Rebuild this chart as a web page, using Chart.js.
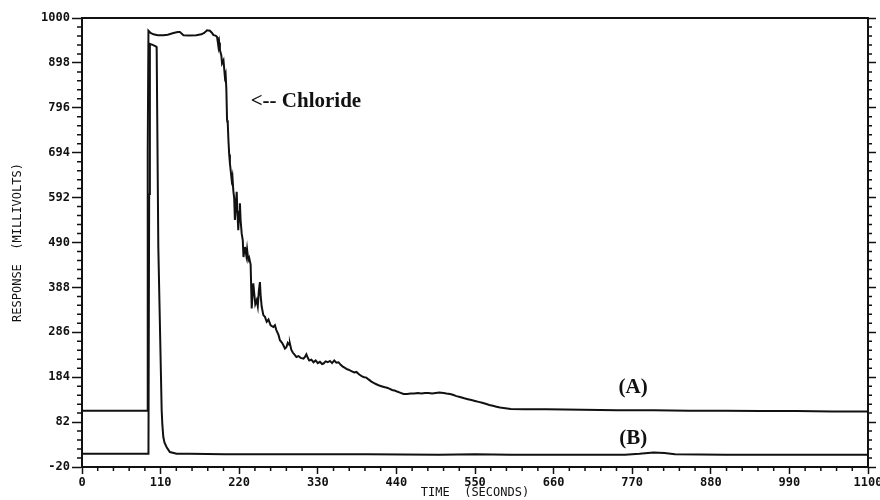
<!DOCTYPE html>
<html>
<head>
<meta charset="utf-8">
<title>Chloride response</title>
<script src="https://cdn.jsdelivr.net/npm/chart.js@4.4.1/dist/chart.umd.min.js"></script>
<style>
  body { margin: 0; background: #fff; }
  #wrap { width: 880px; height: 500px; }
</style>
</head>
<body>
<div id="wrap"><canvas id="chart" width="880" height="500"></canvas></div>
<script>
// curve (A): time in seconds, response in mV
const timeA = [
  0, 40, 91, 92, 93, 96, 100, 106, 114, 120,
  128, 134, 137, 142, 150, 160, 167, 171, 175, 179,
  182, 184, 187, 189, 190, 191, 192, 193, 195, 196,
  198, 200, 201, 202, 203, 204, 205, 206, 207, 208,
  209.5, 210.5, 211.7, 213, 214, 215.5, 216.5, 217.5, 218.7, 220,
  221, 222, 223.5, 225, 226, 227, 228, 230, 231, 232.7,
  234, 236, 237.5, 238.5, 239.7, 241, 242.5, 244.5, 246, 247.5,
  249, 250, 251.5, 253.8, 256, 258.5, 261, 264, 267.8, 270,
  272, 275, 277, 280, 282, 284, 286, 288, 290, 291,
  293, 295, 298, 300, 303, 306, 310, 312, 314, 316,
  318, 321, 324, 327, 330, 333, 336, 338, 341, 344,
  347, 350, 353, 356, 359, 362, 365, 368, 370, 373,
  377, 381, 384, 388, 392, 395, 398, 401, 405, 408,
  412, 416, 420, 424, 427, 430, 434, 437, 440, 445,
  450, 455, 460, 465, 470, 475, 480, 485, 490, 495,
  500, 506, 510, 515, 519, 524, 529, 535, 540, 545,
  550, 555, 560, 566, 570, 575, 580, 585, 590, 595,
  600, 620, 650, 700, 750, 800, 850, 900, 950, 1000,
  1050, 1100
];
const respA = [
  108, 108, 108, 700, 971, 966, 963, 961, 961, 962,
  966, 968, 968, 961, 960, 961, 963, 966, 972, 971,
  966, 961, 960, 957, 946, 934, 944, 927, 915, 897,
  904, 866, 872, 840, 768, 760, 720, 690, 670, 655,
  632, 640, 609, 590, 541, 580, 605, 560, 518, 560,
  579, 540, 510, 495, 457, 470, 480, 460, 475, 450,
  455, 440, 340, 370, 397, 375, 350, 359, 345, 380,
  400, 370, 344, 325, 321, 310, 315, 302, 298, 302,
  291, 280, 268, 262, 256, 249, 252, 262, 258, 260,
  246, 240, 234, 230, 232, 228, 226, 230, 236, 228,
  222, 224, 218, 222, 216, 219, 214, 215, 220, 218,
  221, 216, 222, 217, 218, 212, 208, 205, 203, 201,
  198, 195, 196, 190, 186, 184, 183, 179, 174, 171,
  168, 165, 163, 161, 160, 158, 155, 154, 152, 149,
  146, 146, 147, 147, 148, 147, 148, 148, 147, 148,
  149, 148, 147, 146, 144, 141, 139, 136, 134, 132,
  130, 128, 126, 123, 121, 119, 117, 115, 114, 113,
  112, 111, 111, 110, 109, 109, 108, 108, 107, 107,
  106, 106
];

// curve (B)
const timeB = [
  0, 50, 93, 94, 95, 99, 104, 104.5, 106.8, 111.5,
  112.5, 113.8, 115.5, 118.5, 123, 132.5, 150, 200, 300, 400,
  500, 550, 600, 700, 760, 780, 800, 815, 830, 900,
  1000, 1100
];
const respB = [
  10, 10, 10, 600, 941, 939, 935, 930, 480, 109,
  75, 48, 35, 25, 14, 10, 10, 9, 9, 9,
  8, 9, 8, 8, 8, 10, 13, 12, 9, 8,
  8, 8
];

const xTicks = [0, 110, 220, 330, 440, 550, 660, 770, 880, 990, 1100];
const yTicks = [-20, 82, 184, 286, 388, 490, 592, 694, 796, 898, 1000];

// text labels placed in data units
const notes = [
  { text: '<-- Chloride', t: 236, v: 811 },
  { text: '(A)', t: 751, v: 160 },
  { text: '(B)', t: 752, v: 44 }
];

const ink = '#111';
const tickFont  = { family: '"DejaVu Sans Mono"', size: 12, weight: 'bold' };
const titleFont = { family: '"DejaVu Sans Mono"', size: 12 };

const toPoints = (xs, ys) => xs.map((x, i) => ({ x, y: ys[i] }));
const plain = v => String(v);

// minor tick marks + annotations
const extras = {
  id: 'extras',
  afterDraw(chart) {
    const { ctx, chartArea: a } = chart;
    const x = chart.scales.x, y = chart.scales.y;
    ctx.save();
    ctx.strokeStyle = ink;
    ctx.lineWidth = 1.5;
    ctx.beginPath();
    for (let i = 0; i < xTicks.length - 1; i++) {
      const step = (xTicks[i + 1] - xTicks[i]) / 5;
      for (let k = 1; k < 5; k++) {
        const px = x.getPixelForValue(xTicks[i] + k * step);
        ctx.moveTo(px, a.bottom); ctx.lineTo(px, a.bottom + 4);
      }
    }
    for (let i = 0; i < yTicks.length - 1; i++) {
      const step = (yTicks[i + 1] - yTicks[i]) / 5;
      for (let k = 1; k < 5; k++) {
        const py = y.getPixelForValue(yTicks[i] + k * step);
        ctx.moveTo(a.left - 5, py); ctx.lineTo(a.left, py);
        ctx.moveTo(a.right, py); ctx.lineTo(a.right + 4, py);
      }
    }
    ctx.stroke();

    ctx.fillStyle = ink;
    ctx.font = 'bold 21px "Liberation Serif"';
    ctx.textBaseline = 'middle';
    ctx.textAlign = 'left';
    notes.forEach(n => ctx.fillText(n.text, x.getPixelForValue(n.t), y.getPixelForValue(n.v)));
    ctx.restore();
  }
};

const lineStyle = { borderColor: ink, borderWidth: 2, pointRadius: 0, tension: 0, fill: false };

new Chart(document.getElementById('chart'), {
  type: 'line',
  data: {
    datasets: [
      { label: '(A)', data: toPoints(timeA, respA), ...lineStyle },
      { label: '(B)', data: toPoints(timeB, respB), ...lineStyle }
    ]
  },
  options: {
    responsive: false,
    animation: false,
    layout: { padding: 0 },
    plugins: { legend: { display: false }, tooltip: { enabled: false } },
    scales: {
      x: {
        type: 'linear', position: 'bottom', min: 0, max: 1100,
        afterBuildTicks: s => { s.ticks = xTicks.map(v => ({ value: v })); },
        afterFit: s => { s.height = 33; s.paddingLeft = 0; s.paddingRight = 0; },
        grid: { drawOnChartArea: false, tickLength: 7, tickWidth: 1.5, tickColor: ink },
        border: { color: ink, width: 2 },
        ticks: { color: ink, padding: 2, maxRotation: 0, autoSkip: false, font: tickFont, callback: plain },
        title: { display: true, text: 'TIME  (SECONDS)', color: ink, font: titleFont, padding: 0 }
      },
      xTop: {
        type: 'linear', position: 'top', min: 0, max: 1100,
        afterFit: s => { s.height = 18; s.paddingLeft = 0; s.paddingRight = 0; },
        grid: { display: false },
        ticks: { display: false },
        border: { color: ink, width: 2 }
      },
      y: {
        type: 'linear', position: 'left', min: -20, max: 1000,
        afterBuildTicks: s => { s.ticks = yTicks.map(v => ({ value: v })); },
        afterFit: s => { s.width = 82; s.paddingTop = 0; s.paddingBottom = 0; },
        grid: { drawOnChartArea: false, tickLength: 10, tickWidth: 1.5, tickColor: ink },
        border: { color: ink, width: 2 },
        ticks: { color: ink, padding: 2, autoSkip: false, font: tickFont, callback: plain },
        title: { display: true, text: 'RESPONSE  (MILLIVOLTS)', color: ink, font: titleFont, padding: { top: 11, bottom: 0 } }
      },
      yRight: {
        type: 'linear', position: 'right', min: -20, max: 1000,
        afterBuildTicks: s => { s.ticks = yTicks.map(v => ({ value: v })); },
        afterFit: s => { s.width = 12; s.paddingTop = 0; s.paddingBottom = 0; },
        grid: { drawOnChartArea: false, tickLength: 8, tickWidth: 1.5, tickColor: ink },
        border: { color: ink, width: 2 },
        ticks: { display: false }
      }
    }
  },
  plugins: [extras]
});
</script>
</body>
</html>
